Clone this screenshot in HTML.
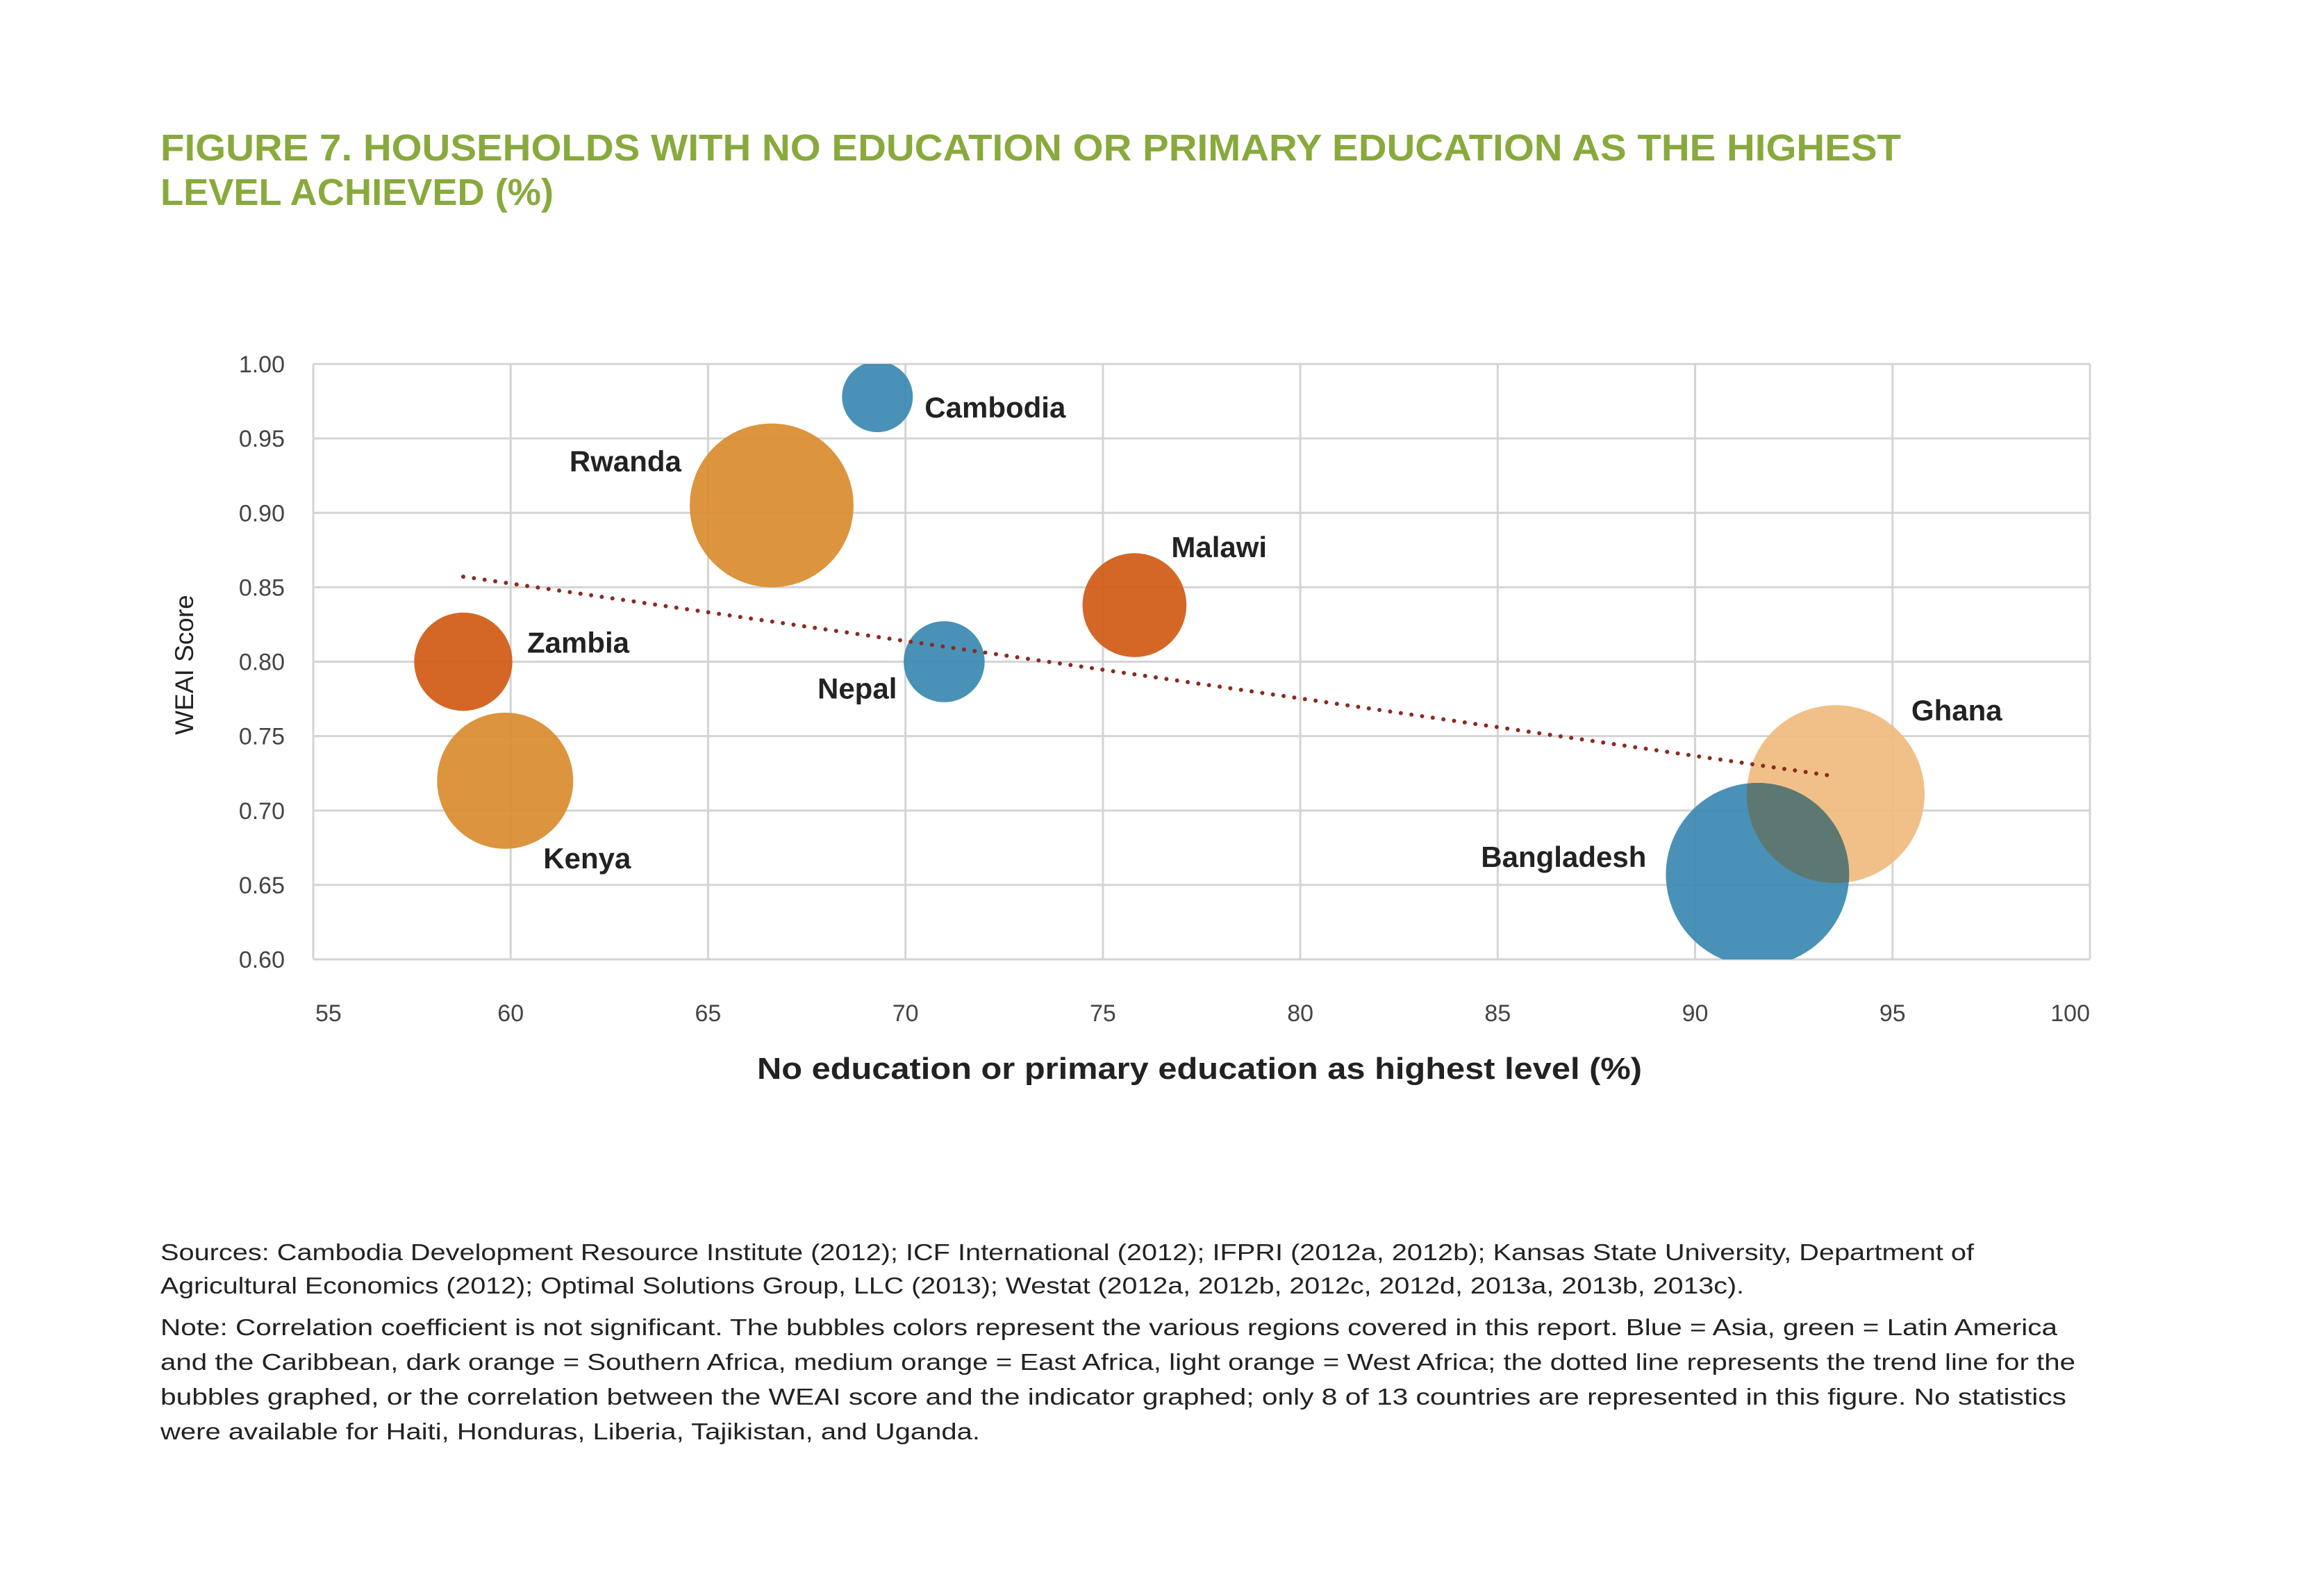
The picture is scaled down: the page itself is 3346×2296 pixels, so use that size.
<!DOCTYPE html>
<html><head><meta charset="utf-8"><style>
html,body{margin:0;padding:0;background:#fff;}
svg{display:block;font-family:"Liberation Sans",sans-serif;}
</style></head><body>
<svg id="chart" width="3346" height="2296" viewBox="0 0 3346 2296" xmlns="http://www.w3.org/2000/svg">
<rect width="3346" height="2296" fill="#fff"/>
<g fill="#88aa3c" font-weight="bold" font-size="54">
<text x="231" y="231" textLength="2506" lengthAdjust="spacingAndGlyphs">FIGURE 7. HOUSEHOLDS WITH NO EDUCATION OR PRIMARY EDUCATION AS THE HIGHEST</text>
<text x="231" y="295" textLength="566" lengthAdjust="spacingAndGlyphs">LEVEL ACHIEVED (%)</text>
</g>
<g id="grid"></g>
<g id="bubbles"></g>
<g id="trend"></g>
<g id="labels" font-weight="bold" font-size="42" fill="#222"></g>
<g id="ticks" font-size="34" fill="#444"></g>
<text x="1727" y="1553" text-anchor="middle" font-weight="bold" font-size="44" fill="#222" textLength="1274" lengthAdjust="spacingAndGlyphs">No education or primary education as highest level (%)</text>
<text transform="translate(278,957) rotate(-90)" text-anchor="middle" font-size="37" fill="#222">WEAI Score</text>
<g font-size="33" fill="#222">
<text x="231" y="1814" textLength="2611" lengthAdjust="spacingAndGlyphs">Sources: Cambodia Development Resource Institute (2012); ICF International (2012); IFPRI (2012a, 2012b); Kansas State University, Department of</text>
<text x="231" y="1862" textLength="2280" lengthAdjust="spacingAndGlyphs">Agricultural Economics (2012); Optimal Solutions Group, LLC (2013); Westat (2012a, 2012b, 2012c, 2012d, 2013a, 2013b, 2013c).</text>
<text x="231" y="1922" textLength="2731" lengthAdjust="spacingAndGlyphs">Note: Correlation coefficient is not significant. The bubbles colors represent the various regions covered in this report. Blue = Asia, green = Latin America</text>
<text x="231" y="1972" textLength="2757" lengthAdjust="spacingAndGlyphs">and the Caribbean, dark orange = Southern Africa, medium orange = East Africa, light orange = West Africa; the dotted line represents the trend line for the</text>
<text x="231" y="2022" textLength="2744" lengthAdjust="spacingAndGlyphs">bubbles graphed, or the correlation between the WEAI score and the indicator graphed; only 8 of 13 countries are represented in this figure. No statistics</text>
<text x="231" y="2072" textLength="1180" lengthAdjust="spacingAndGlyphs">were available for Haiti, Honduras, Liberia, Tajikistan, and Uganda.</text>
</g>
</svg>
<script>
const countries = ["Zambia","Kenya","Rwanda","Cambodia","Nepal","Malawi","Ghana","Bangladesh"];
const eduPct = [58.8, 59.86, 66.61, 69.29, 70.98, 75.8, 93.56, 91.58];
const weai = [0.800, 0.720, 0.905, 0.978, 0.800, 0.838, 0.711, 0.657];
const bubbleSize = [50, 96, 139, 26, 34, 56, 164, 174];
const region = ["south","east","east","asia","asia","south","west","asia"];
const xTicks = [55,60,65,70,75,80,85,90,95,100];
const yTicks = [0.60,0.65,0.70,0.75,0.80,0.85,0.90,0.95,1.00];
const yTickLabels = ["0.60","0.65","0.70","0.75","0.80","0.85","0.90","0.95","1.00"];

const NS="http://www.w3.org/2000/svg";
const L=451,R=3009,T=524,B=1381;
const xMin=55,xMax=100,yMin=0.6,yMax=1.0;
const sx=v=>L+(v-xMin)/(xMax-xMin)*(R-L);
const sy=v=>B-(v-yMin)/(yMax-yMin)*(B-T);
const rad=s=>10*Math.sqrt(s);
const colors={asia:"#3a88b1",south:"#d05a14",east:"#d98b2e",west:"#f0bb7e"};
function mk(tag,attrs,parent){const e=document.createElementNS(NS,tag);for(const k in attrs)e.setAttribute(k,attrs[k]);parent.appendChild(e);return e;}

const grid=document.getElementById('grid');
xTicks.forEach(t=>{const l=mk('line',{x1:sx(t),x2:sx(t),y1:T,y2:B,stroke:'#d4d4d4','stroke-width':3},grid);

});
yTicks.forEach(t=>{const l=mk('line',{x1:L,x2:R,y1:sy(t),y2:sy(t),stroke:'#d4d4d4','stroke-width':3},grid);

});

const ticks=document.getElementById('ticks');
xTicks.forEach((t,i)=>{let anchor='middle',x=sx(t);
 if(i===0){anchor='start';x=sx(t)+3;} if(i===xTicks.length-1){anchor='end';}
 const e=mk('text',{x:x,y:1470,'text-anchor':anchor},ticks);e.textContent=String(t);
 
 });
yTicks.forEach((t,i)=>{const e=mk('text',{x:410,y:sy(t)+12,'text-anchor':'end'},ticks);e.textContent=yTickLabels[i];
 
 });

const svg=document.getElementById('chart');
const defs=mk('defs',{},svg);
const cp=mk('clipPath',{id:'plotclip'},defs);
mk('rect',{x:L,y:T,width:R-L,height:B-T},cp);
const bub=document.getElementById('bubbles');
bub.setAttribute('clip-path','url(#plotclip)');
countries.forEach((c,i)=>{const e=mk('circle',{cx:sx(eduPct[i]),cy:sy(weai[i]),r:rad(bubbleSize[i]),fill:colors[region[i]],'fill-opacity':0.92},bub);
 
 });
// overlap region Ghana/Bangladesh
const gi=countries.indexOf('Ghana'),bi=countries.indexOf('Bangladesh');
const oc=mk('clipPath',{id:'overlapclip'},defs);
mk('circle',{cx:sx(eduPct[bi]),cy:sy(weai[bi]),r:rad(bubbleSize[bi])},oc);
const ov=mk('circle',{cx:sx(eduPct[gi]),cy:sy(weai[gi]),r:rad(bubbleSize[gi]),fill:'#5d7873','clip-path':'url(#overlapclip)'},bub);



// trend line (OLS)
const n=eduPct.length;const mx=eduPct.reduce((a,b)=>a+b)/n,my=weai.reduce((a,b)=>a+b)/n;
let sxy=0,sxx=0;for(let i=0;i<n;i++){sxy+=(eduPct[i]-mx)*(weai[i]-my);sxx+=(eduPct[i]-mx)**2;}
const slope=sxy/sxx,ic=my-slope*mx;const x0=Math.min(...eduPct),x1=Math.max(...eduPct);
const tl=mk('line',{x1:sx(x0),y1:sy(ic+slope*x0),x2:sx(x1),y2:sy(ic+slope*x1),stroke:'#8b2a22','stroke-width':6,'stroke-dasharray':'0 15.5','stroke-linecap':'round'},document.getElementById('trend'));



const labelDx=[92,55,-130,68,-68,53,109,-160];
const labelDy=[-13,126,-49,30,53,-69,-106,-11];
const labelAnchor=["start","start","end","start","end","start","start","end"];
const lab=document.getElementById('labels');
countries.forEach((c,i)=>{const e=mk('text',{x:sx(eduPct[i])+labelDx[i],y:sy(weai[i])+labelDy[i],'text-anchor':labelAnchor[i]},lab);e.textContent=c;
 
 });
</script>
</body></html>
